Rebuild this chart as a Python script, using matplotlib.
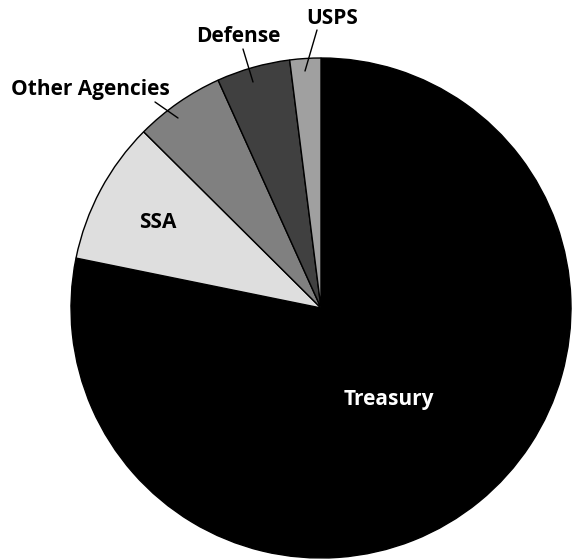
import matplotlib
matplotlib.use("Agg")
import matplotlib.pyplot as plt

agencies = ["Treasury", "SSA", "Other Agencies", "Defense", "USPS"]
shares = [78.2, 9.25, 5.8, 4.75, 2.0]
colors = ["#000000", "#dedede", "#808080", "#404040", "#a0a0a0"]

plt.rcParams['font.family'] = ['Open Sans', 'DejaVu Sans']

fig = plt.figure(figsize=(5.74, 5.60), dpi=100)
ax = fig.add_axes([0, 0, 1, 1])

ax.pie(shares, colors=colors, startangle=90, counterclock=False,
       center=(321, 252), radius=250, frame=True,
       wedgeprops=dict(edgecolor='black', linewidth=1.0))
ax.set_xlim(0, 574)
ax.set_ylim(0, 560)
ax.axis('off')

fs = 15
H = 560
def leader(p0, p1):
    ax.annotate('', xy=(p1[0], H - p1[1]), xytext=(p0[0], H - p0[1]),
                arrowprops=dict(arrowstyle='-', color='black', lw=1, shrinkA=0, shrinkB=0))

ax.text(389, H - 399, agencies[0], color='white', fontsize=fs, fontweight='bold', ha='center', va='center')
ax.text(158, H - 223, agencies[1], color='black', fontsize=fs, fontweight='bold', ha='center', va='center')
ax.text(90, H - 89, agencies[2], color='black', fontsize=fs, fontweight='bold', ha='center', va='center')
ax.text(238, H - 36, agencies[3], color='black', fontsize=fs, fontweight='bold', ha='center', va='center')
ax.text(332, H - 19, agencies[4], color='black', fontsize=fs, fontweight='bold', ha='center', va='center')
leader((155, 102), (178, 118))
leader((243, 49), (253, 82))
leader((317, 30), (305, 71))

fig.savefig("out.png", dpi=100, facecolor='white')
